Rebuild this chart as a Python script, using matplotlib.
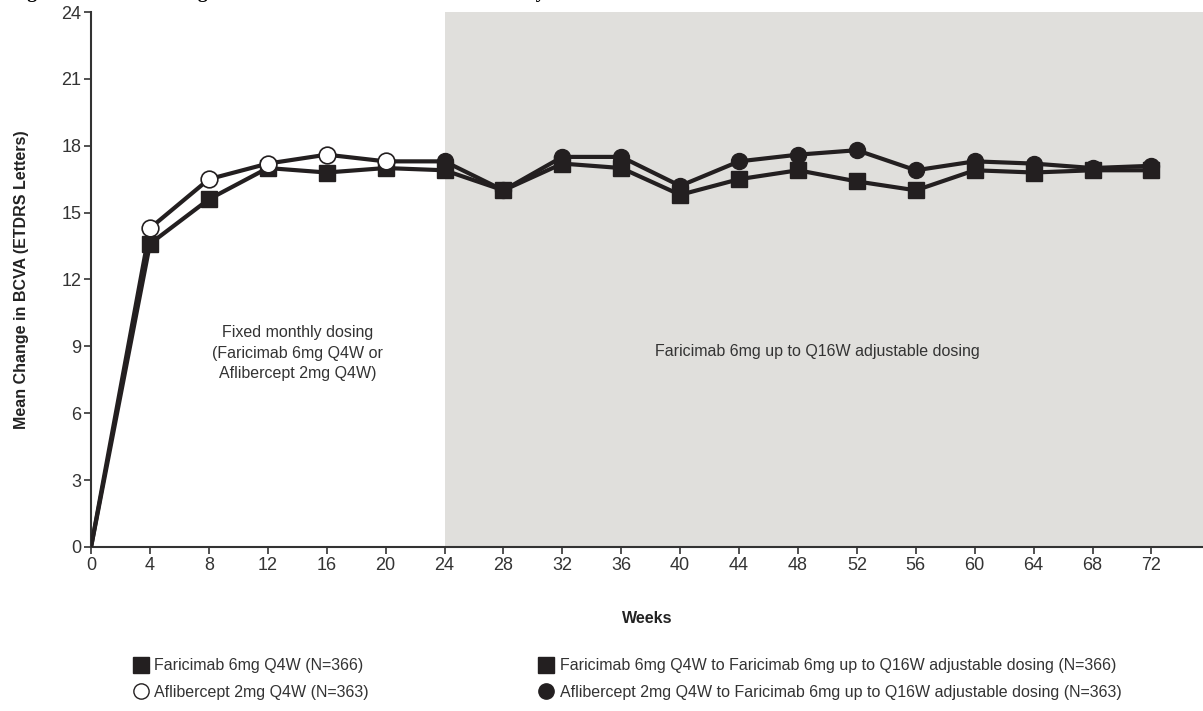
import numpy as np
import matplotlib.pyplot as plt
from matplotlib.lines import Line2D

plt.rcParams['font.family'] = ['Liberation Sans', 'DejaVu Sans']

# Data
weeks = [0, 4, 8, 12, 16, 20, 24, 28, 32, 36, 40, 44, 48, 52, 56, 60, 64, 68, 72]
faricimab = [0, 13.6, 15.6, 17.0, 16.8, 17.0, 16.9, 16.0, 17.2, 17.0, 15.8, 16.5,
             16.9, 16.4, 16.0, 16.9, 16.8, 16.9, 16.9]
aflibercept = [0, 14.3, 16.5, 17.2, 17.6, 17.3, 17.3, 16.0, 17.5, 17.5, 16.2, 17.3,
               17.6, 17.8, 16.9, 17.3, 17.2, 17.0, 17.1]
switch_week = 24
yticks = [0, 3, 6, 9, 12, 15, 18, 21, 24]

labels = ['Faricimab 6mg Q4W (N=366)',
          'Aflibercept 2mg Q4W (N=363)',
          'Faricimab 6mg Q4W to Faricimab 6mg up to Q16W adjustable dosing (N=366)',
          'Aflibercept 2mg Q4W to Faricimab 6mg up to Q16W adjustable dosing (N=363)']

dark = '#231f20'
shade = '#e0dfdc'

fig = plt.figure(figsize=(12.03, 7.11), dpi=100)
ax = fig.add_axes([0.0757, 0.2307, 0.9243, 0.7524])

x_max = 75.5
ax.axvspan(switch_week, x_max, color=shade, zorder=0, lw=0)

w = np.array(weeks)
f = np.array(faricimab)
a = np.array(aflibercept)
sw = weeks.index(switch_week)

# faricimab arm
ax.plot(w, f, color=dark, lw=3, zorder=2)
ax.plot(w[1:], f[1:], ls='none', marker='s', ms=11.5, color=dark, zorder=3)

# aflibercept arm: open circles before the switch, filled after
ax.plot(w, a, color=dark, lw=3, zorder=4)
ax.plot(w[1:sw], a[1:sw], ls='none', marker='o', ms=12, mfc='white',
        mec=dark, mew=1.2, zorder=5)
ax.plot(w[sw:], a[sw:], ls='none', marker='o', ms=11.5, color=dark, zorder=5)

ax.set_xlim(0, x_max)
ax.set_ylim(0, 24)
ax.set_xticks(weeks)
ax.set_yticks(yticks)
ax.tick_params(labelsize=13, length=5, width=1.2, pad=2, color='#333333',
               labelcolor='#333333')
ax.spines[['top', 'right']].set_visible(False)
ax.spines[['left', 'bottom']].set_linewidth(1.5)
ax.spines[['left', 'bottom']].set_color('#333333')

ax.set_xlabel('Weeks', fontsize=11.5, fontweight='bold', labelpad=27, color='#222222')
ax.set_ylabel('Mean Change in BCVA (ETDRS Letters)', fontsize=11.5, fontweight='bold',
              labelpad=23, color='#222222')

ax.text(14, 8.7, 'Fixed monthly dosing\n(Faricimab 6mg Q4W or\nAflibercept 2mg Q4W)',
        ha='center', va='center', fontsize=11.5, color='#333333', linespacing=1.45)
ax.text(49.3, 8.75, 'Faricimab 6mg up to Q16W adjustable dosing',
        ha='center', va='center', fontsize=11.5, color='#333333')

# clipped figure title at the very top
fig.text(0.008, 1.0 + 1.5 / 711, 'Figure 11: Mean Change in BCVA Over Time in TENAYA Study',
         family=['Liberation Serif', 'DejaVu Serif'], fontweight='bold', fontsize=14,
         va='baseline', ha='left')

# legend, two columns
sq = dict(ls='none', color=dark, markersize=11)
col1 = [Line2D([], [], marker='s', **sq),
        Line2D([], [], marker='o', ls='none', markersize=11, mfc='white', mec=dark, mew=1)]
col2 = [Line2D([], [], marker='s', **sq),
        Line2D([], [], marker='o', **sq)]
leg_kw = dict(frameon=False, fontsize=11.5, handletextpad=0.35, labelspacing=0.7,
              handlelength=1.0, borderaxespad=0, labelcolor='#333333')
fig.legend(col1, labels[:2], loc='upper left', bbox_to_anchor=(0.105, 0.083), **leg_kw)
fig.legend(col2, labels[2:], loc='upper left', bbox_to_anchor=(0.442, 0.083), **leg_kw)

fig.savefig('out.png', dpi=100)
